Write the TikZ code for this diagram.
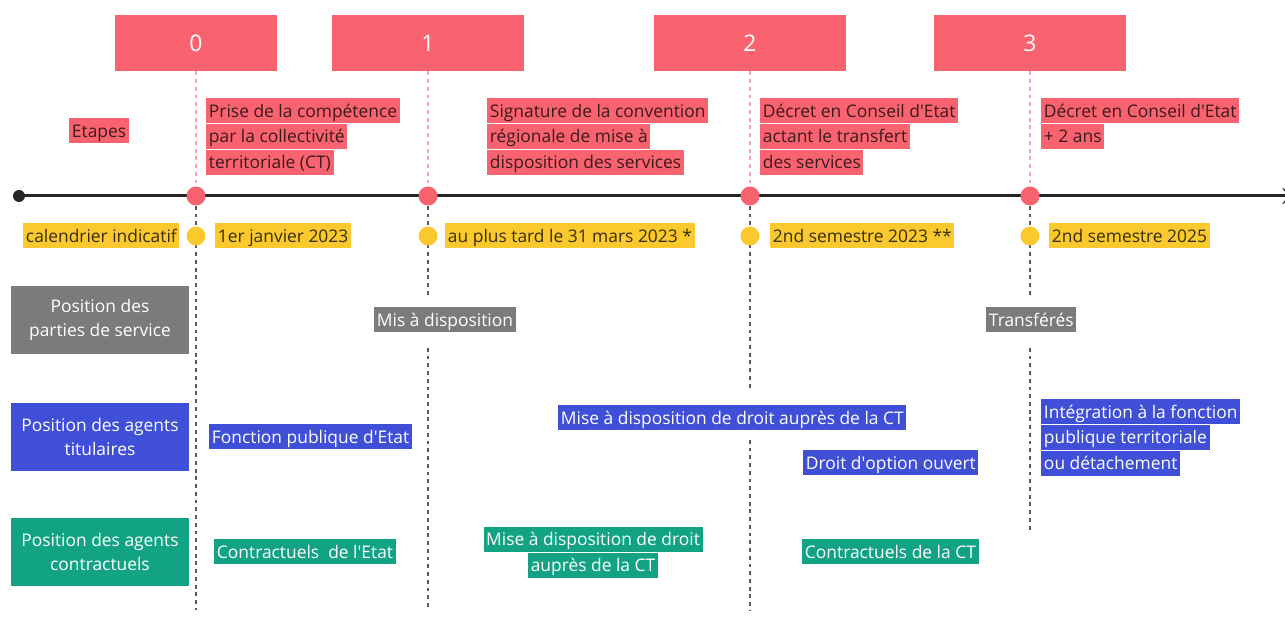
\documentclass[tikz,border=0pt]{standalone}
\usepackage{fontspec}
\setmainfont{Open Sans}
\usetikzlibrary{positioning,arrows.meta}
\definecolor{rose}{HTML}{F8636F}
\definecolor{rosepale}{HTML}{F6A3AB}
\definecolor{jaune}{HTML}{FBC92E}
\definecolor{bleu}{HTML}{3F4FD8}
\definecolor{vert}{HTML}{12A384}
\definecolor{gris}{HTML}{7B7B7B}
\definecolor{texterose}{HTML}{3B1A1E}
\definecolor{textejaune}{HTML}{382E05}
\newcommand{\apo}{\textquotesingle}

\begin{document}
\begin{tikzpicture}[x=0.02cm,y=-0.02cm,
    every node/.style={font=\fontsize{9.9}{14.2}\selectfont},
    stepnum/.style={fill=rose,text=white,minimum width=3.86cm,minimum height=1.12cm,
                    font=\fontsize{13}{16}\selectfont},
    lbl/.style={inner xsep=1.5pt,inner ysep=0pt,minimum height=0.5cm,
                text height=1.95ex,text depth=0.6ex},
    rlbl/.style={lbl,fill=rose,text=texterose},
    jlbl/.style={lbl,fill=jaune,text=textejaune},
    glbl/.style={lbl,fill=gris,text=white},
    blbl/.style={lbl,fill=bleu,text=white},
    vlbl/.style={lbl,fill=vert,text=white},
    hdr/.style={text=white,align=center,minimum width=3.55cm,minimum height=1.36cm},
    pdot/.style={circle,fill=rose,inner sep=0pt,minimum size=0.38cm},
    jdot/.style={circle,fill=jaune,inner sep=0pt,minimum size=0.38cm},
    bdot/.style={circle,fill=black!85,inner sep=0pt,minimum size=0.24cm},
    tline/.style={line width=1.7pt,draw=black!85,-{Stealth[length=10pt,width=9pt]}},
    pdash/.style={draw=rosepale,line width=0.6pt,dash pattern=on 2.2pt off 2.2pt},
    gdash/.style={draw=black!65,line width=0.7pt,dash pattern=on 2.2pt off 2.2pt}]

  \useasboundingbox (0,0) rectangle (1285,617);

  % etapes
  \node[stepnum,minimum width=3.26cm] (s0) at (196,43) {0};
  \node[stepnum] (s1) at (428,43) {1};
  \node[stepnum] (s2) at (750,43) {2};
  \node[stepnum] (s3) at (1030,43) {3};

  \node[rlbl,anchor=west] (etp) at (69,131) {Etapes};

  \node[rlbl,anchor=north west] (d0a) at (206,98) {Prise de la compétence};
  \node[rlbl,below=0pt of d0a.south west,anchor=north west] (d0b) {par la collectivité};
  \node[rlbl,below=0pt of d0b.south west,anchor=north west] (d0c) {territoriale (CT)};

  \node[rlbl,anchor=north west] (d1a) at (487,98) {Signature de la convention};
  \node[rlbl,below=0pt of d1a.south west,anchor=north west] (d1b) {régionale de mise à};
  \node[rlbl,below=0pt of d1b.south west,anchor=north west] (d1c) {disposition des services};

  \node[rlbl,anchor=north west] (d2a) at (760,98) {Décret en Conseil d\apo Etat};
  \node[rlbl,below=0pt of d2a.south west,anchor=north west] (d2b) {actant le transfert};
  \node[rlbl,below=0pt of d2b.south west,anchor=north west] (d2c) {des services};

  \node[rlbl,anchor=north west] (d3a) at (1041,98) {Décret en Conseil d\apo Etat};
  \node[rlbl,below=0pt of d3a.south west,anchor=north west] (d3b) {+ 2 ans};

  % calendrier
  \node[jlbl,anchor=west] (cal) at (23,236) {calendrier indicatif};
  \node[jlbl,anchor=west] (c0) at (215,236) {1er janvier 2023};
  \node[jlbl,anchor=west] (c1) at (445,236) {au plus tard le 31 mars 2023 *};
  \node[jlbl,anchor=west] (c2) at (770,236) {2nd semestre 2023 **};
  \node[jlbl,anchor=west] (c3) at (1049,236) {2nd semestre 2025};

  % lignes de position
  \node[hdr,fill=gris] (hsvc) at (100,320) {Position des\\parties de service};
  \node[hdr,fill=bleu] (htit) at (100,437) {Position des agents\\titulaires};
  \node[hdr,fill=vert] (hctr) at (100,552) {Position des agents\\contractuels};

  \node[glbl,anchor=west] (mad) at (374,320) {Mis à disposition};
  \node[glbl,anchor=west] (trf) at (986,320) {Transférés};

  \node[blbl,anchor=west] (fpe) at (209,437) {Fonction publique d\apo Etat};
  \node[blbl,anchor=west] (mdd) at (558,418) {Mise à disposition de droit auprès de la CT};
  \node[blbl,anchor=west] (doo) at (803,463) {Droit d\apo option ouvert};
  \node[blbl,anchor=north west] (int1) at (1041,399) {Intégration à la fonction};
  \node[blbl,below=0pt of int1.south west,anchor=north west] (int2) {publique territoriale};
  \node[blbl,below=0pt of int2.south west,anchor=north west] (int3) {ou détachement};

  \node[vlbl,anchor=west] (cde) at (214,552) {Contractuels\ \ de l\apo Etat};
  \node[vlbl] (mdv1) at (593,539.5) {Mise à disposition de droit};
  \node[vlbl,below=0pt of mdv1] (mdv2) {auprès de la CT};
  \node[vlbl,anchor=west] (cct) at (802,552) {Contractuels de la CT};

  % frise
  \node[bdot] (t) at (19,196) {};
  \coordinate (tend) at (1300,196);
  \draw[tline] (t.center) -- (tend);
  \node[pdot] (t0) at (s0 |- t) {};
  \node[pdot] (t1) at (s1 |- t) {};
  \node[pdot] (t2) at (s2 |- t) {};
  \node[pdot] (t3) at (s3 |- t) {};

  \draw[pdash] (s0.south) -- (t0.north);
  \draw[pdash] (s1.south) -- (t1.north);
  \draw[pdash] (s2.south) -- (t2.north);
  \draw[pdash] (s3.south) -- (t3.north);

  \coordinate (b0) at (196,610);
  \coordinate (b1) at (428,610);
  \coordinate (b2) at (750,610);
  \coordinate (b3) at (1030,530);

  \draw[gdash] (t0.south) -- (b0);
  \draw[gdash,shorten >=10pt*0.57] (t1.south) -- (t1 |- mad.north);
  \draw[gdash,shorten <=15pt*0.57] (t1 |- mad.south) -- (b1);
  \draw[gdash,shorten >=14pt*0.57] (t2.south) -- (t2 |- mdd.north);
  \draw[gdash,shorten <=9pt*0.57] (t2 |- mdd.south) -- (b2);
  \draw[gdash,shorten >=10pt*0.57] (t3.south) -- (t3 |- trf.north);
  \draw[gdash,shorten <=15pt*0.57] (t3 |- trf.south) -- (b3);

  \node[jdot] (j0) at (t0 |- cal) {};
  \node[jdot] (j1) at (t1 |- cal) {};
  \node[jdot] (j2) at (t2 |- cal) {};
  \node[jdot] (j3) at (t3 |- cal) {};
\end{tikzpicture}
\end{document}
